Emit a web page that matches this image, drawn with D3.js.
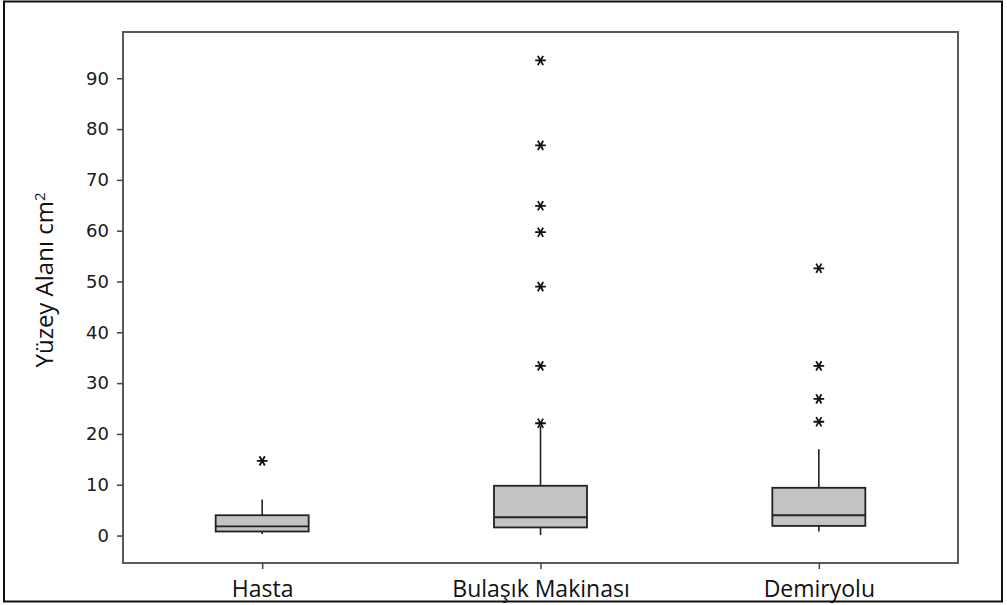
<!DOCTYPE html>
<html>
<head>
<meta charset="utf-8">
<script src="https://cdn.jsdelivr.net/npm/d3@7"></script>
<style>
  body { margin: 0; background: #fff; }
</style>
</head>
<body>
<div id="chart"></div>
<script>
// categories and box statistics
const groups = ["Hasta", "Bulaşık Makinası", "Demiryolu"];
const q1 = [0.8, 1.6, 1.9];
const medians = [1.8, 3.6, 4.0];
const q3 = [4.0, 9.8, 9.4];
const whiskerLow = [0.3, 0.1, 0.8];
const whiskerHigh = [7.1, 21.6, 17.0];
const outliers = [
  [14.7],
  [22.1, 33.4, 49.0, 59.7, 64.9, 76.8, 93.5],
  [22.4, 26.9, 33.4, 52.6]
];
const yTicks = [0, 10, 20, 30, 40, 50, 60, 70, 80, 90];

const W = 1007, H = 605;
const margin = {top: 32, right: 49, bottom: 42, left: 123},
    width = W - margin.left - margin.right,
    height = H - margin.top - margin.bottom;

const svg = d3.select("#chart")
    .append("svg")
    .attr("width", W)
    .attr("height", H);

// outer frame
svg.append("rect")
    .attr("x", 4).attr("y", 1.5)
    .attr("width", 998).attr("height", 600)
    .attr("fill", "none")
    .attr("stroke", "#111")
    .attr("stroke-width", 2);

const g = svg.append("g")
    .attr("transform", `translate(${margin.left}, ${margin.top})`);

const x = d3.scalePoint()
    .domain(groups)
    .range([0, width])
    .padding(0.5);

const y = d3.scaleLinear()
    .domain([-5.4, 99.1])
    .range([height, 0]);

// plot frame
g.append("rect")
    .attr("width", width).attr("height", height)
    .attr("fill", "none")
    .attr("stroke", "#5a5a5a")
    .attr("stroke-width", 2);

// y axis
const yAxis = g.append("g")
    .call(d3.axisLeft(y).tickValues(yTicks).tickSize(6).tickPadding(8));
yAxis.select(".domain").remove();
yAxis.selectAll("line").attr("stroke", "#444").attr("stroke-width", 1.5);
yAxis.selectAll("text")
    .style("font-family", "DejaVu Sans")
    .style("font-size", "18px")
    .attr("fill", "#1a1a1a");

// x axis
const xAxis = g.append("g")
    .attr("transform", `translate(0, ${height})`)
    .call(d3.axisBottom(x).tickSize(6).tickPadding(12));
xAxis.select(".domain").remove();
xAxis.selectAll("line").attr("stroke", "#444").attr("stroke-width", 1.5);
xAxis.selectAll("text")
    .style("font-family", "'Open Sans', sans-serif")
    .style("font-size", "23px")
    .attr("fill", "#111");

// y title
svg.append("text")
    .attr("transform", "translate(53, 280) rotate(-90)")
    .attr("text-anchor", "middle")
    .style("font-family", "'Open Sans', sans-serif")
    .style("font-size", "24px")
    .attr("fill", "#111")
    .text("Yüzey Alanı cm")
    .append("tspan")
    .attr("dy", "-0.55em")
    .style("font-size", "15px")
    .text("2");

const boxW = 93;
const data = groups.map((name, i) => ({
  name, q1: q1[i], med: medians[i], q3: q3[i],
  lo: whiskerLow[i], hi: whiskerHigh[i], out: outliers[i]
}));

const box = g.selectAll(".box")
    .data(data)
    .join("g")
    .attr("class", "box")
    .attr("transform", d => `translate(${x(d.name)}, 0)`);

// whiskers
box.append("line")
    .attr("y1", d => y(d.q3)).attr("y2", d => y(d.hi))
    .attr("stroke", "#222").attr("stroke-width", 1.6);
box.append("line")
    .attr("y1", d => y(d.q1)).attr("y2", d => y(d.lo))
    .attr("stroke", "#222").attr("stroke-width", 1.6);

// boxes
box.append("rect")
    .attr("x", -boxW / 2)
    .attr("y", d => y(d.q3))
    .attr("width", boxW)
    .attr("height", d => y(d.q1) - y(d.q3))
    .attr("fill", "#c3c3c3")
    .attr("stroke", "#222")
    .attr("stroke-width", 1.8);

// medians
box.append("line")
    .attr("x1", -boxW / 2).attr("x2", boxW / 2)
    .attr("y1", d => y(d.med)).attr("y2", d => y(d.med))
    .attr("stroke", "#222").attr("stroke-width", 1.8);

// outliers
const star = d3.symbol().type(d3.symbolAsterisk).size(80);
box.selectAll(".out")
    .data(d => d.out)
    .join("path")
    .attr("class", "out")
    .attr("d", star)
    .attr("transform", v => `translate(0, ${y(v)}) rotate(90)`)
    .attr("fill", "none")
    .attr("stroke", "#111")
    .attr("stroke-width", 1.8);
</script>
</body>
</html>
